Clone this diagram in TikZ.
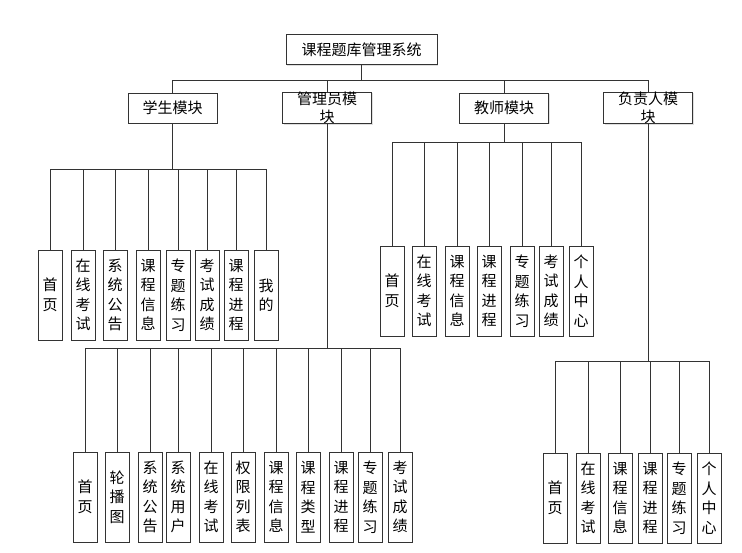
\documentclass[tikz,border=0pt]{standalone}
\usepackage{fontspec}
\setmainfont{Noto Sans CJK SC}
\usetikzlibrary{shadows}

\begin{document}
\begin{tikzpicture}[x=1pt, y=-1pt,
    box/.style={draw=black!80, line width=0.9pt, fill=white, rectangle, inner sep=0pt,
                drop shadow={shadow xshift=1pt, shadow yshift=-1pt, opacity=.25}},
    topbox/.style={box, minimum height=30pt, font=\fontsize{15}{18}\selectfont, align=center},
    leafbox/.style={box, minimum width=24pt, minimum height=90pt, font=\fontsize{15}{19.5}\selectfont, align=center},
    link/.style={draw=black!80, line width=0.9pt}]
    \useasboundingbox (0,0) rectangle (742,552);

    \node[topbox, minimum width=151pt] (root) at (361.5,49.5) {课程题库管理系统};
    \node[topbox, minimum width=89pt] (student) at (172.5,108) {学生模块};
    \node[topbox, minimum width=89pt] (admin) at (327,108) {管理员模\\块};
    \node[topbox, minimum width=89pt] (teacher) at (504,108) {教师模块};
    \node[topbox, minimum width=89pt] (resp) at (648,108) {负责人模\\块};

    % student leaves
    \node[leafbox] (s1) at (50,295) {首\\页};
    \node[leafbox] (s2) at (83,295) {在\\线\\考\\试};
    \node[leafbox] (s3) at (115,295) {系\\统\\公\\告};
    \node[leafbox] (s4) at (148,295) {课\\程\\信\\息};
    \node[leafbox] (s5) at (178,295) {专\\题\\练\\习};
    \node[leafbox] (s6) at (207,295) {考\\试\\成\\绩};
    \node[leafbox] (s7) at (236,295) {课\\程\\进\\程};
    \node[leafbox] (s8) at (266,295) {我\\的};

    % teacher leaves
    \node[leafbox] (t1) at (392,291) {首\\页};
    \node[leafbox] (t2) at (424,291) {在\\线\\考\\试};
    \node[leafbox] (t3) at (457,291) {课\\程\\信\\息};
    \node[leafbox] (t4) at (489,291) {课\\程\\进\\程};
    \node[leafbox] (t5) at (522,291) {专\\题\\练\\习};
    \node[leafbox] (t6) at (551,291) {考\\试\\成\\绩};
    \node[leafbox] (t7) at (581,291) {个\\人\\中\\心};

    % admin leaves
    \node[leafbox] (a1) at (85,497) {首\\页};
    \node[leafbox] (a2) at (117,497) {轮\\播\\图};
    \node[leafbox] (a3) at (150,497) {系\\统\\公\\告};
    \node[leafbox] (a4) at (178,497) {系\\统\\用\\户};
    \node[leafbox] (a5) at (211,497) {在\\线\\考\\试};
    \node[leafbox] (a6) at (243,497) {权\\限\\列\\表};
    \node[leafbox] (a7) at (276,497) {课\\程\\信\\息};
    \node[leafbox] (a8) at (308,497) {课\\程\\类\\型};
    \node[leafbox] (a9) at (341,497) {课\\程\\进\\程};
    \node[leafbox] (a10) at (370,497) {专\\题\\练\\习};
    \node[leafbox] (a11) at (400,497) {考\\试\\成\\绩};

    % responsible leaves
    \node[leafbox] (r1) at (555,498) {首\\页};
    \node[leafbox] (r2) at (588,498) {在\\线\\考\\试};
    \node[leafbox] (r3) at (620,498) {课\\程\\信\\息};
    \node[leafbox] (r4) at (650,498) {课\\程\\进\\程};
    \node[leafbox] (r5) at (679,498) {专\\题\\练\\习};
    \node[leafbox] (r6) at (709,498) {个\\人\\中\\心};

    % connectors
    \draw[link] (root.south) -- ++(0,15) coordinate (rootj);
    \foreach \m in {student,admin,teacher,resp}
        \draw[link] (\m.north) |- (rootj);

    \draw[link, line width=1.2pt] (student.south) -- ++(0,46) coordinate (sj);
    \foreach \i in {1,...,8}
        \draw[link] (s\i.north) |- (sj);

    \draw[link] (teacher.south) -- ++(0,19) coordinate (tj);
    \foreach \i in {1,...,7}
        \draw[link] (t\i.north) |- (tj);

    \draw[link] (admin.south) -- ++(0,224) coordinate (aj);
    \foreach \i in {1,...,11}
        \draw[link] (a\i.north) |- (aj);

    \draw[link] (resp.south) -- ++(0,237) coordinate (rj);
    \foreach \i in {1,...,6}
        \draw[link] (r\i.north) |- (rj);
\end{tikzpicture}
\end{document}
